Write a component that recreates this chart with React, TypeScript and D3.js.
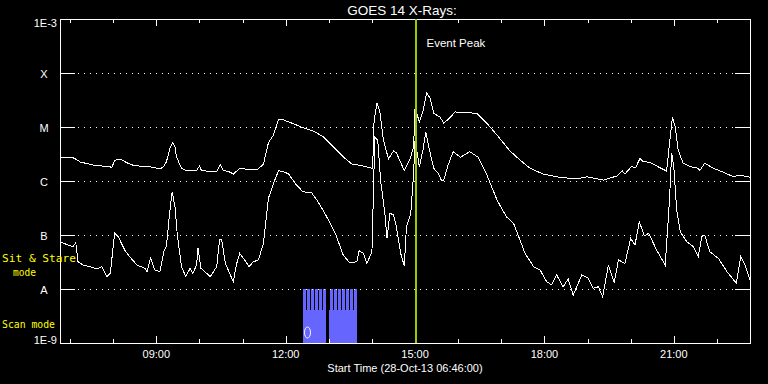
import React from "react";
import * as d3 from "d3";

const DAY = "2013-10-28";
const startTime = "06:46";
const endTime = "22:46";
const eventPeak = "15:01";
const titleText = "GOES 14 X-Rays:";
const xAxisTitle = "Start Time (28-Oct-13 06:46:00)";
const yDecades = [1e-9, 1e-8, 1e-7, 1e-6, 1e-5, 1e-4, 1e-3];
const yTickLabels = ["1E-9", "A", "B", "C", "M", "X", "1E-3"];
const gridDecades = [1e-8, 1e-7, 1e-6, 1e-5, 1e-4];
const xLabelTimes = ["09:00", "12:00", "15:00", "18:00", "21:00"];

// GOES 1-8 A (long channel), W/m^2
const longChannel: [string, number][] = [
  ["06:46", 2.7e-6], ["07:04", 2.7e-6], ["07:09", 2.5e-6], ["07:14", 2.25e-6], ["07:32", 1.98e-6],
  ["07:56", 1.82e-6], ["07:58", 1.79e-6], ["08:02", 2.35e-6], ["08:07", 2.56e-6], ["08:12", 2.45e-6],
  ["08:19", 2.18e-6], ["08:28", 1.95e-6], ["08:47", 1.82e-6], ["08:51", 1.84e-6], ["09:05", 1.67e-6],
  ["09:10", 1.84e-6], ["09:14", 2.25e-6], ["09:19", 4.03e-6], ["09:23", 5.21e-6], ["09:26", 4.32e-6],
  ["09:28", 2.82e-6], ["09:35", 1.72e-6], ["09:42", 1.55e-6], ["09:56", 1.55e-6], ["10:00", 1.9e-6],
  ["10:03", 1.55e-6], ["10:24", 1.49e-6], ["10:29", 2.0e-6], ["10:33", 1.6e-6], ["10:43", 1.45e-6],
  ["10:47", 1.33e-6], ["10:56", 1.72e-6], ["11:06", 1.65e-6], ["11:21", 1.65e-6], ["11:29", 2.04e-6],
  ["11:36", 5.12e-6], ["11:43", 7.11e-6], ["11:50", 1.35e-5], ["11:57", 1.35e-5], ["12:06", 1.22e-5],
  ["12:24", 9.7e-6], ["12:38", 8.5e-6], ["12:52", 6.6e-6], ["13:06", 4.3e-6], ["13:20", 2.8e-6],
  ["13:32", 2.07e-6], ["13:43", 1.95e-6], ["13:55", 1.79e-6], ["14:01", 1.72e-6], ["14:03", 1.35e-5],
  ["14:07", 2.75e-5], ["14:11", 1.92e-5], ["14:16", 5.7e-6], ["14:23", 2.56e-6], ["14:30", 3.6e-6],
  ["14:34", 3.34e-6], ["14:45", 1.55e-6], ["14:53", 2.56e-6], ["14:58", 4.3e-6], ["15:00", 2.22e-5],
  ["15:06", 1.25e-5], ["15:11", 1.92e-5], ["15:16", 4.32e-5], ["15:21", 3.4e-5], ["15:26", 1.79e-5],
  ["15:35", 1.51e-5], ["15:40", 1.17e-5], ["15:46", 1.39e-5], ["15:56", 1.9e-5], ["16:26", 1.79e-5],
  ["16:40", 1.17e-5], ["16:54", 7.1e-6], ["17:12", 3.6e-6], ["17:26", 2.45e-6], ["17:40", 1.72e-6],
  ["17:58", 1.35e-6], ["18:21", 1.17e-6], ["18:45", 1.09e-6], ["18:59", 1.2e-6], ["19:22", 1.04e-6],
  ["19:41", 1.24e-6], ["19:48", 1.55e-6], ["19:52", 1.35e-6], ["20:01", 1.84e-6], ["20:07", 1.79e-6],
  ["20:13", 2.63e-6], ["20:17", 2.28e-6], ["20:27", 2.22e-6], ["20:38", 1.84e-6], ["20:50", 1.53e-6],
  ["20:54", 4.99e-6], ["20:58", 1.51e-5], ["21:02", 1.0e-5], ["21:06", 3.75e-6], ["21:13", 2.13e-6],
  ["21:23", 1.84e-6], ["21:34", 1.72e-6], ["21:36", 1.55e-6], ["21:43", 2.13e-6], ["21:55", 1.72e-6],
  ["22:09", 1.45e-6], ["22:23", 1.2e-6], ["22:32", 1.29e-6], ["22:46", 1.17e-6],
];

// GOES 0.5-4 A (short channel), W/m^2
const shortChannel: [string, number][] = [
  ["06:46", 7.5e-8], ["06:55", 6.7e-8], ["07:04", 6.1e-8], ["07:08", 7.2e-8], ["07:11", 3.2e-8],
  ["07:18", 2.78e-8], ["07:28", 2.59e-8], ["07:37", 2.35e-8], ["07:44", 2.59e-8], ["07:51", 1.69e-8],
  ["07:56", 1.95e-8], ["08:02", 1.08e-7], ["08:07", 9.3e-8], ["08:16", 5.28e-8], ["08:23", 3.97e-8],
  ["08:33", 2.78e-8], ["08:44", 2.42e-8], ["08:47", 2.09e-8], ["08:52", 3.7e-8], ["08:58", 2.25e-8],
  ["09:05", 2.09e-8], ["09:11", 5.28e-8], ["09:14", 6.1e-8], ["09:18", 2.18e-7], ["09:22", 6.3e-7],
  ["09:26", 3.34e-7], ["09:29", 1.08e-7], ["09:35", 2.59e-8], ["09:41", 1.69e-8], ["09:47", 2.42e-8],
  ["09:51", 1.95e-8], ["09:56", 2.78e-8], ["09:58", 5.66e-8], ["10:02", 2.42e-8], ["10:10", 1.95e-8],
  ["10:15", 1.69e-8], ["10:24", 2.59e-8], ["10:28", 8.3e-8], ["10:31", 8.1e-8], ["10:36", 2.99e-8],
  ["10:43", 1.82e-8], ["10:47", 1.37e-8], ["10:52", 2.99e-8], ["10:56", 4.58e-8], ["11:03", 3.44e-8],
  ["11:09", 2.59e-8], ["11:15", 3.2e-8], ["11:22", 3.44e-8], ["11:29", 7.0e-8], ["11:36", 4.78e-7],
  ["11:43", 9.06e-7], ["11:50", 1.55e-6], ["11:57", 1.49e-6], ["12:04", 1.35e-6], ["12:15", 8.43e-7],
  ["12:24", 6.33e-7], ["12:36", 6.07e-7], ["12:45", 4.14e-7], ["12:57", 2.18e-7], ["13:09", 1.08e-7],
  ["13:20", 4.27e-8], ["13:29", 3.07e-8], ["13:39", 3.2e-8], ["13:42", 5.12e-8], ["13:48", 4.58e-8],
  ["13:53", 2.99e-8], ["14:00", 4.9e-8], ["14:04", 6.45e-6], ["14:08", 5.75e-6], ["14:12", 1.04e-6],
  ["14:18", 2.52e-7], ["14:21", 8.67e-8], ["14:25", 2.52e-7], ["14:30", 2.35e-7], ["14:34", 1.42e-7],
  ["14:40", 4.58e-8], ["14:45", 2.67e-8], ["14:48", 1.42e-7], ["14:54", 2.52e-7], ["14:58", 1.39e-6],
  ["15:00", 5.75e-6], ["15:06", 1.84e-6], ["15:11", 3.75e-6], ["15:15", 8.17e-6], ["15:20", 3.75e-6],
  ["15:26", 1.72e-6], ["15:32", 1.39e-6], ["15:37", 1.01e-6], ["15:40", 1.04e-6], ["15:46", 1.98e-6],
  ["15:53", 3.49e-6], ["16:03", 2.75e-6], ["16:16", 3.49e-6], ["16:28", 2.75e-6], ["16:40", 1.29e-6],
  ["16:54", 4.45e-7], ["17:07", 2.18e-7], ["17:17", 1.65e-7], ["17:26", 8.07e-8], ["17:33", 4.58e-8],
  ["17:45", 2.59e-8], ["17:54", 2.25e-8], ["18:03", 1.37e-8], ["18:10", 1.19e-8], ["18:17", 1.82e-8],
  ["18:26", 1.1e-8], ["18:33", 1.53e-8], ["18:40", 7.7e-9], ["18:52", 1.82e-8], ["19:01", 1.58e-8],
  ["19:08", 1.03e-8], ["19:15", 1.1e-8], ["19:21", 7.2e-9], ["19:29", 2.78e-8], ["19:37", 1.31e-8],
  ["19:43", 3.44e-8], ["19:52", 2.99e-8], ["20:00", 8.67e-8], ["20:06", 6.52e-8], ["20:12", 1.76e-7],
  ["20:19", 9.6e-8], ["20:25", 1.08e-7], ["20:36", 5.28e-8], ["20:48", 2.78e-8], ["20:51", 1.08e-7],
  ["20:54", 4.45e-7], ["20:57", 3.34e-6], ["21:00", 1.84e-6], ["21:04", 2.9e-7], ["21:09", 1.15e-7],
  ["21:18", 7.5e-8], ["21:27", 6.1e-8], ["21:34", 3.97e-8], ["21:39", 9.3e-8], ["21:43", 1.0e-7],
  ["21:50", 4.9e-8], ["22:02", 3.7e-8], ["22:14", 2.09e-8], ["22:27", 1.28e-8], ["22:33", 3.97e-8],
  ["22:39", 2.78e-8], ["22:46", 1.47e-8],
];

// Instrument observing modes
const scanIntervals: [string, string][] = [
  ["12:24:05", "12:56:05"], ["13:00:16", "13:39:13"],
];
const stareIntervals: [string, string][] = [
  ["12:24:05", "12:28:16"], ["12:29:39", "12:33:50"], ["12:35:13", "12:39:23"],
  ["12:40:47", "12:44:58"], ["12:46:21", "12:50:31"], ["12:51:55", "12:56:05"],
  ["13:01:39", "13:05:49"], ["13:07:13", "13:11:23"], ["13:12:47", "13:16:58"],
  ["13:18:21", "13:22:31"], ["13:23:55", "13:28:05"], ["13:29:29", "13:33:39"],
  ["13:35:02", "13:39:13"],
];

const parse = d3.utcParse("%Y-%m-%d %H:%M:%S");
const t = (s: string) => parse(`${DAY} ${s.length === 5 ? s + ":00" : s}`) as Date;

export default function App() {
  const W = 768, H = 384;
  const L = 60, R = 750, T = 19, B = 343;
  const font = "'Liberation Sans', Arial, sans-serif";
  const mono = "'DejaVu Sans Mono', 'Liberation Mono', monospace";
  const x = d3.scaleUtc().domain([t(startTime), t(endTime)]).range([L, R]);
  const y = d3.scaleLog().domain([1e-9, 1e-3]).range([B, T]);
  const line = d3.line<[string, number]>().x(d => x(t(d[0]))).y(d => y(d[1]));
  const hourTicks = x.ticks(d3.utcHour.every(1) as any);
  const scanTop = 310, stareTop = 289;
  const px = (v: number) => Math.round(v) + 0.5;

  return (
    <svg width={W} height={H} style={{ position: "absolute", left: 0, top: 0, background: "#000" }}>
      <rect x={0} y={0} width={W} height={H} fill="#000" />
      {/* observing mode bars */}
      <g fill="#6666ff" shapeRendering="crispEdges">
        {scanIntervals.map((d, i) => (
          <rect key={"s" + i} x={Math.round(x(t(d[0])))} y={scanTop}
            width={Math.round(x(t(d[1]))) - Math.round(x(t(d[0])))} height={B - scanTop} />
        ))}
        {stareIntervals.map((d, i) => (
          <rect key={"st" + i} x={Math.round(x(t(d[0])))} y={stareTop}
            width={Math.round(x(t(d[1]))) - Math.round(x(t(d[0])))} height={B - stareTop} />
        ))}
      </g>
      <ellipse cx={307.5} cy={332.5} rx={3} ry={5.5} fill="none" stroke="#fff" strokeWidth={1} />
      {/* grid */}
      <g stroke="#fff" strokeWidth={1} shapeRendering="crispEdges">
        {gridDecades.map((v, i) => (
          <g key={i}>
            <line x1={L} x2={L + 15} y1={px(y(v))} y2={px(y(v))} />
            <line x1={R - 15} x2={R} y1={px(y(v))} y2={px(y(v))} />
            <line x1={L + 18} x2={R - 15} y1={px(y(v))} y2={px(y(v))} strokeDasharray="1 5" />
          </g>
        ))}
        {hourTicks.map((d, i) => {
          const major = d.getUTCHours() % 3 === 0;
          const len = major ? 7 : 4;
          const xx = px(x(d));
          return (
            <g key={"h" + i}>
              <line x1={xx} x2={xx} y1={T} y2={T + len} />
              <line x1={xx} x2={xx} y1={B} y2={B - len} />
            </g>
          );
        })}
        <rect x={L + 0.5} y={T + 0.5} width={R - L} height={B - T} fill="none" />
      </g>
      {/* curves */}
      <path d={line(longChannel) as string} fill="none" stroke="#fff" strokeWidth={1} shapeRendering="crispEdges" />
      <path d={line(shortChannel) as string} fill="none" stroke="#fff" strokeWidth={1} shapeRendering="crispEdges" />
      {/* event peak */}
      <line x1={x(t(eventPeak))} x2={x(t(eventPeak))} y1={T} y2={B} stroke="#99cc00" strokeWidth={2} shapeRendering="crispEdges" />
      <text x={426.5} y={46.5} fill="#fff" fontFamily={font} fontSize={11.5}>Event Peak</text>
      {/* y labels */}
      <g fill="#fff" fontFamily={font} fontSize={11}>
        {yDecades.map((v, i) => {
          const lab = yTickLabels[i];
          if (lab.length > 1) {
            const yy = i === 0 ? y(v) + 1 : y(v) + 8;
            return <text key={i} x={57} y={yy} textAnchor="end">{lab}</text>;
          }
          return <text key={i} x={44} y={y(v) + 5} textAnchor="middle">{lab}</text>;
        })}
      </g>
      {/* x labels */}
      <g fill="#fff" fontFamily={font} fontSize={11}>
        {xLabelTimes.map((s, i) => (
          <text key={i} x={x(t(s))} y={358} textAnchor="middle">{s}</text>
        ))}
        <text x={405} y={371.5} textAnchor="middle">{xAxisTitle}</text>
      </g>
      <text x={402} y={15} fill="#fff" fontFamily={font} fontSize={13.5} textAnchor="middle">{titleText}</text>
      {/* mode labels */}
      <g fill="#ffff00" fontFamily={mono} fontSize={11}>
        <text x={2} y={262} textLength={74} lengthAdjust="spacingAndGlyphs">Sit &amp; Stare</text>
        <text x={13} y={275.5} textLength={23} lengthAdjust="spacingAndGlyphs">mode</text>
        <text x={2} y={328} textLength={53} lengthAdjust="spacingAndGlyphs">Scan mode</text>
      </g>
    </svg>
  );
}
